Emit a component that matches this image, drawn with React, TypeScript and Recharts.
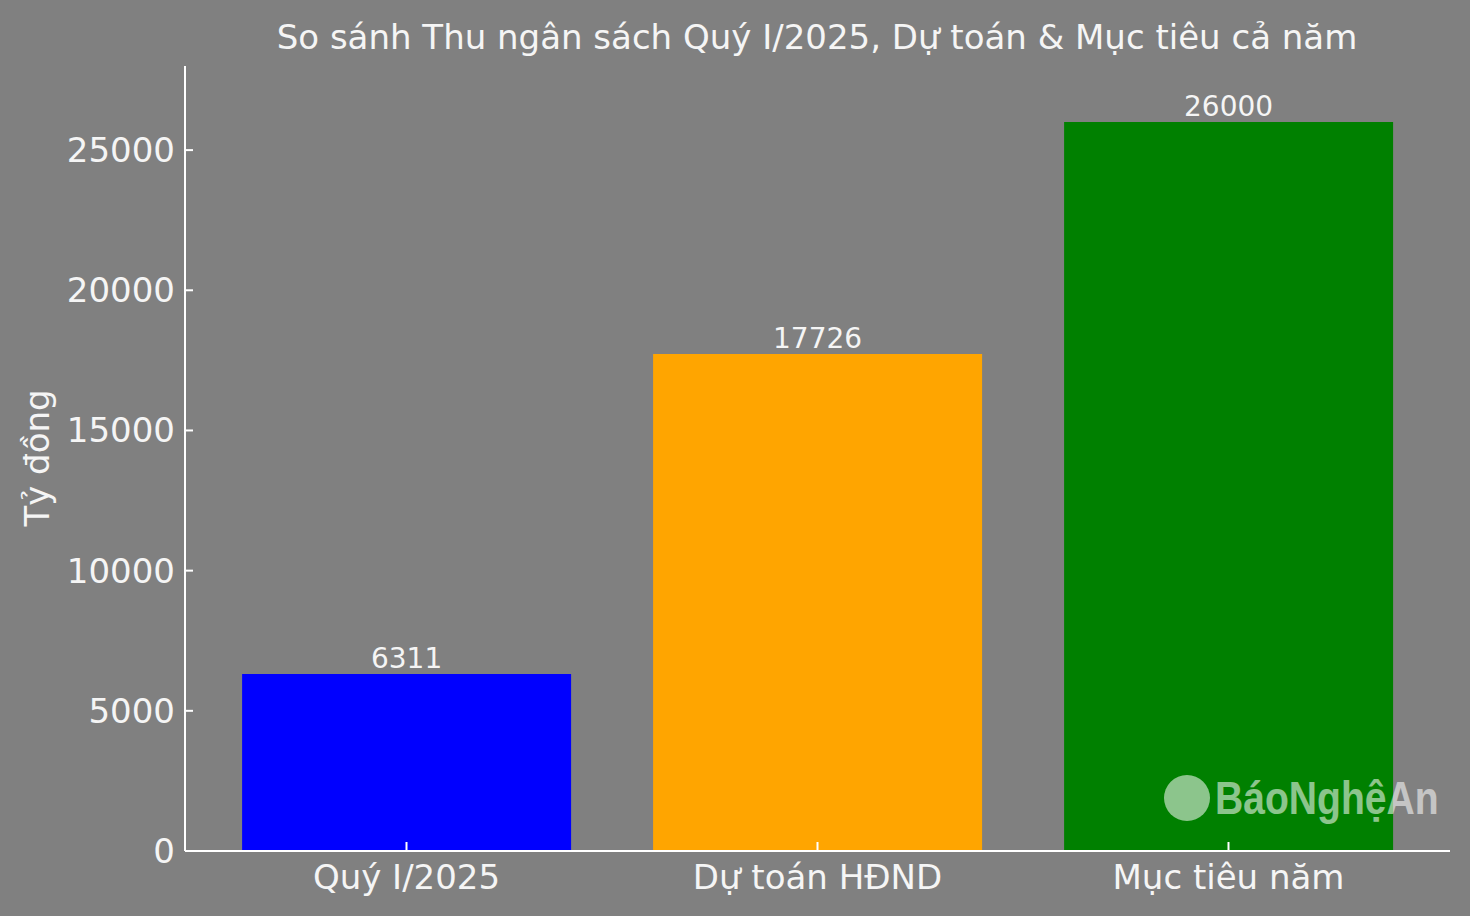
import { BarChart, Bar, XAxis, YAxis, Cell, LabelList } from "recharts"

const categories = ["Quý I/2025", "Dự toán HĐND", "Mục tiêu năm"]
const values = [6311, 17726, 26000]
const barColors = ["#0000ff", "#ffa500", "#008000"]
const yTicks = [0, 5000, 10000, 15000, 20000, 25000]

const data = categories.map((name, i) => ({ name, value: values[i] }))

const FONT = "'DejaVu Sans', sans-serif"
const AXIS = "#ffffff"

const YTick = (props: any) => {
  const { x, y, payload } = props
  return (
    <g>
      <line x1={x} y1={y} x2={x + 8} y2={y} stroke={AXIS} strokeWidth={2} />
      <text x={x - 10} y={y} textAnchor="end" dominantBaseline="central" fill="#f5f5f5" fontSize={34} fontFamily={FONT}>
        {payload.value}
      </text>
    </g>
  )
}

const XTick = (props: any) => {
  const { x, y, payload } = props
  return (
    <g>
      <line x1={x} y1={y} x2={x} y2={y - 9} stroke={AXIS} strokeWidth={2} />
      <text x={x} y={y + 26} textAnchor="middle" dominantBaseline="central" fill="#f5f5f5" fontSize={34} fontFamily={FONT}>
        {payload.value}
      </text>
    </g>
  )
}

export default function App() {
  return (
    <div style={{ position: "absolute", left: 0, top: 0, width: 1470, height: 916, background: "#808080" }}>
      <BarChart
        width={1470}
        height={916}
        data={data}
        margin={{ top: 66, right: 20, bottom: 0, left: 0 }}
        barCategoryGap="10%"
      >
        <XAxis
          dataKey="name"
          height={65}
          padding={{ left: 16, right: 16 }}
          axisLine={{ stroke: AXIS, strokeWidth: 2 }}
          tickLine={false}
          tickSize={0}
          tickMargin={0}
          tick={<XTick />}
          interval={0}
        />
        <YAxis
          width={185}
          domain={[0, 28000]}
          ticks={yTicks}
          allowDataOverflow
          axisLine={{ stroke: AXIS, strokeWidth: 2 }}
          tickLine={false}
          tickSize={0}
          tickMargin={0}
          tick={<YTick />}
        />
        <Bar dataKey="value" isAnimationActive={false}>
          {data.map((d, i) => (
            <Cell key={d.name} fill={barColors[i]} />
          ))}
          <LabelList dataKey="value" position="top" offset={6} fill="#f5f5f5" fontSize={28} fontFamily={FONT} />
        </Bar>
      </BarChart>
      <svg width={1470} height={916} style={{ position: "absolute", left: 0, top: 0, pointerEvents: "none" }}>
        <text x={817} y={37} textAnchor="middle" dominantBaseline="central" fill="#f5f5f5" fontSize={34} fontFamily={FONT}>
          So sánh Thu ngân sách Quý I/2025, Dự toán &amp; Mục tiêu cả năm
        </text>
        <text
          x={37}
          y={458}
          textAnchor="middle"
          dominantBaseline="central"
          transform="rotate(-90 37 458)"
          fill="#f5f5f5"
          fontSize={34}
          fontFamily={FONT}
        >
          Tỷ đồng
        </text>
        <g opacity={0.55}>
          <circle cx={1187} cy={798} r={23} fill="#ffffff" />
          <text
            transform="translate(1215 814) scale(0.85 1)"
            x={0}
            y={0}
            fill="#ffffff"
            fontSize={46}
            fontWeight="bold"
            fontFamily="'Liberation Sans', Arial, sans-serif"
          >
            BáoNghệAn
          </text>
        </g>
      </svg>
    </div>
  )
}
